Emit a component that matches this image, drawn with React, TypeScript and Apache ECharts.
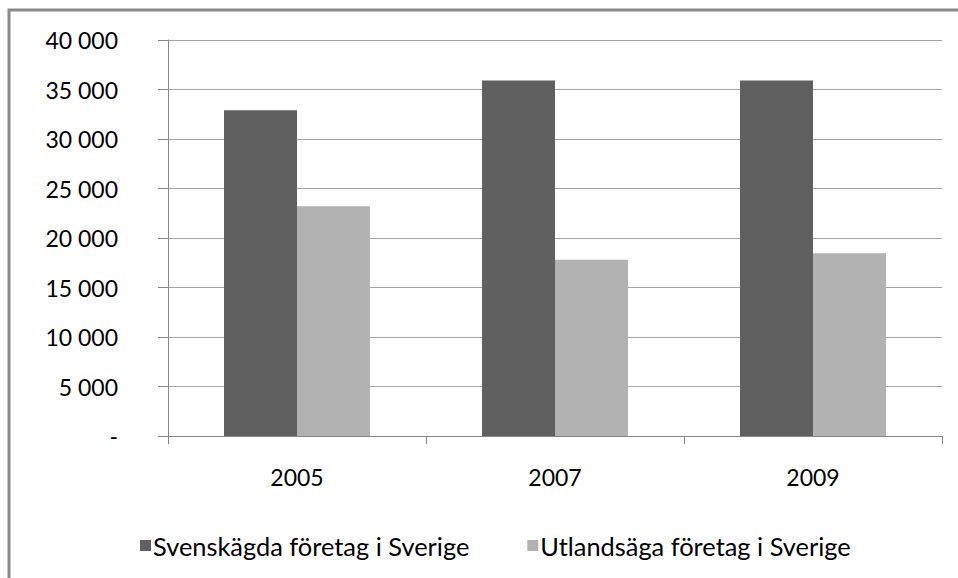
import React, { useEffect, useRef } from "react";
import * as echarts from "echarts";

const categories = ["2005", "2007", "2009"];
const seriesNames = ["Svenskägda företag i Sverige", "Utlandsäga företag i Sverige"];
const swedishOwned = [32900, 35900, 35900];
const foreignOwned = [23200, 17800, 18450];
const yTicks = [0, 5000, 10000, 15000, 20000, 25000, 30000, 35000, 40000];

const FONT = "Lato";

function fmt(v: number): string {
  if (v === 0) return "-";
  const s = String(Math.round(v));
  return s.replace(/\B(?=(\d{3})+(?!\d))/g, " ");
}

export default function App() {
  const ref = useRef<HTMLDivElement>(null);
  useEffect(() => {
    if (!ref.current) return;
    const chart = echarts.init(ref.current, undefined, { renderer: "svg" });
    chart.setOption({
      animation: false,
      backgroundColor: "#ffffff",
      textStyle: { fontFamily: FONT },
      graphic: [
        {
          type: "rect",
          shape: { x: 9, y: 10, width: 1200, height: 1000 },
          style: { fill: "none", stroke: "#8a8a8a", lineWidth: 3 },
          silent: true,
          z: 100,
        },
      ],
      grid: { left: 168, right: 16, top: 40, bottom: 142, containLabel: false },
      legend: {
        data: seriesNames,
        left: 140,
        top: 533,
        padding: 0,
        icon: "rect",
        itemWidth: 11,
        itemHeight: 11,
        itemGap: 58,
        textStyle: { fontFamily: FONT, fontSize: 25.4, color: "#000", lineHeight: 24, padding: [0, 0, 0, -3] },
      },
      xAxis: {
        type: "category",
        data: categories,
        axisLine: { show: true, lineStyle: { color: "#868686", width: 1 } },
        axisTick: { show: true, alignWithLabel: false, length: 8, lineStyle: { color: "#868686" } },
        axisLabel: { color: "#000", fontFamily: FONT, fontSize: 23, lineHeight: 23, margin: 29 },
        splitLine: { show: false },
      },
      yAxis: {
        type: "value",
        min: yTicks[0],
        max: yTicks[yTicks.length - 1],
        interval: 5000,
        axisLine: { show: true, lineStyle: { color: "#868686", width: 1 } },
        axisTick: { show: true, length: 10, lineStyle: { color: "#868686" } },
        axisLabel: {
          color: "#000",
          fontFamily: FONT,
          fontSize: 23,
          margin: 50,
          formatter: (v: number) => fmt(v),
        },
        splitLine: { show: true, lineStyle: { color: "#a6a6a6", width: 1 } },
      },
      series: [
        {
          name: seriesNames[0],
          type: "bar",
          data: swedishOwned,
          barWidth: 73,
          barGap: "0%",
          itemStyle: { color: "#606060" },
        },
        {
          name: seriesNames[1],
          type: "bar",
          data: foreignOwned,
          barWidth: 73,
          barGap: "0%",
          itemStyle: { color: "#b2b2b2" },
        },
      ],
    });
    return () => chart.dispose();
  }, []);
  return (
    <div
      ref={ref}
      style={{ position: "fixed", left: 0, top: 0, width: 958, height: 578 }}
    />
  );
}
